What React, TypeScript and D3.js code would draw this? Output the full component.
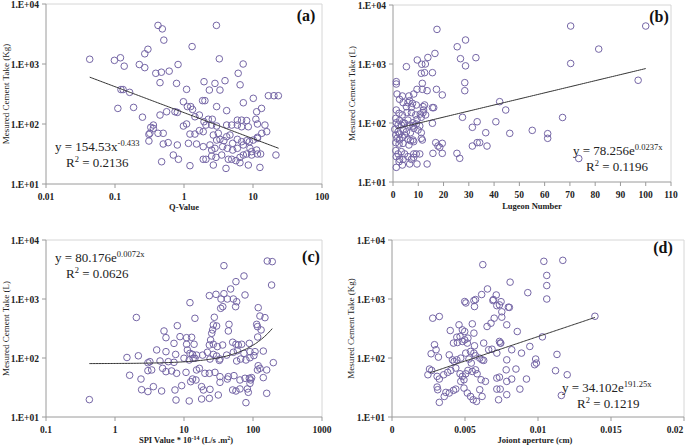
import React from 'react';
import * as d3 from 'd3';

// ---------- DATA ----------
// (a) Q-Value vs measured cement take (Kg)
const qValuePoints: [number, number][] = [
  [0.043,1200],[0.098,1150],[0.12,1270],[0.27,1480],[0.30,1760],[0.42,4400],[0.485,3850],[0.51,2500],[1.31,1950],[2.95,4400],[3.25,1220],
  [0.136,920],[0.225,980],[0.27,870],[0.39,700],[0.47,730],[0.61,760],[0.82,980],[7.2,1000],[6.1,700],[6.5,450],
  [0.122,375],[0.131,375],[0.163,337],[0.11,182],[0.186,189],[0.25,130],[0.31,67],[0.31,52],[0.33,88],
  [0.449,489],[0.78,475],[1.95,507],[2.81,475],[3.93,527],
  [1.09,378],[2.33,368],[3.32,368],
  [16.7,296],[20.1,296],[23.3,296],[10.1,268],[7.24,226],
  [0.98,235],[1.12,195],[1.25,195],[1.33,175],[1.86,245],[2.01,245],[2.97,195],[4.15,167],[11.3,160],[13.3,182],
  [0.449,141],[0.56,160],[0.74,160],[0.8,156],[1.44,132],[1.67,141],
  [1.95,109],[2.25,120],[2.57,120],[2.08,96],[2.52,96],[2.97,92.5],
  [4.15,96],[4.91,96],[5.93,116],[6.84,116],[8.09,114],[5.93,96],[6.84,90],[8.55,90],
  [11,120],[11.6,100],[14.9,96],[15.8,74.5],[13.4,70],[11.6,57.7],
  [0.98,92.5],[1.09,100],
  [0.36,96],[0.36,84.5],[0.32,70],[0.42,70],[0.5,70],
  [1.22,68],[1.44,68],[1.67,77.5],[1.9,74.5],
  [2.66,65.5],[3.14,70],[2.97,54],[3.32,55.5],[3.79,52.7],[4.15,61.4],[4.63,65.5],[5.07,47.6],
  [5.93,55.5],[6.84,50.7],[8.09,52.7],[8.85,50.7],[10.1,54],[11.6,60],
  [0.5,46.4],[0.59,48.9],[0.8,44.7],
  [1.16,47.6],[1.52,46.4],[1.9,41.9],[2.38,44.7],[2.52,36.8],[2.81,39.3],
  [3.63,41.9],[4.25,39.3],[5.07,36.8],[5.93,39.3],[7.24,44.7],[9.04,39.3],[9.55,34.6],[11.3,36.8],
  [0.7,30.4],[0.83,25.8],
  [1.9,25.8],[2.08,25.8],[2.52,29.3],[2.91,27.8],[3.52,30.4],
  [4.39,25.8],[4.91,25.8],[5.66,24.5],[6.47,27.8],[7.24,30.4],[8.09,31.6],[9.55,30.4],[11.6,31.6],[12.9,31.6],[21.5,30.4],
  [0.474,23.5],[1.22,20.2],[2.66,20.7],[4.06,18.2],[6.47,22.6],[8.55,20.7],[12.6,18.9],
];

// (b) Lugeon number vs measured cement take (L)
const lugeonPoints: [number, number][] = [
  [100,4400],[70.3,4400],[81.4,1790],[70.3,1020],[97,530],[73.5,25],[67.1,124],[55.1,75],[61.2,66],[61.2,55],[46.2,66.8],
  [28.7,930],[28.7,2550],[25.4,1960],[26.7,1230],[32.8,1280],[17.4,3860],[16.6,1510],[9.6,1170],[13.8,1290],[11.4,990],[12.8,1000],
  [5.3,901],[11.2,695],[12.5,713],[15.6,713],[28.4,483],[28.4,353],
  [1.3,502],[1.3,458],[11.6,470],
  [6.3,287],[3.7,287],[8.2,310],[9.5,372],[11.6,372],[13.5,353],[17.2,372],[19.5,299],
  [1.6,310],[2.6,252],[4.0,221],[5.9,221],[7.7,215],[6.6,239],[5.3,189],[7.3,185],[9.2,202],[11.9,189],[12.5,202],[15.6,182],[16.1,182],
  [1.3,166],[2.4,146],[3.7,137],[5.5,150],[7.3,150],[9.0,137],[10.8,142],[11.9,150],[12.1,166],
  [1.1,120],[2.6,110],[4.0,101],[5.9,112],[7.9,101],[9.5,115],[11.2,125],[12.9,137],
  [1.3,101],[2.0,92.5],[3.3,92.5],[4.6,99],[6.6,92.5],[7.9,89],[9.2,96],[10.6,89],[15.6,99],
  [0.7,78],[2.0,71],[2.6,65],[4.0,76],[5.3,71],[6.9,68.5],[8.2,81],[9.9,76],[11.2,68.5],
  [1.1,62.7],[1.6,55],[2.6,51.5],[3.7,57.1],[4.6,62.7],[5.9,52.8],[6.9,50.2],[7.9,51.5],[11.2,55],[11.6,51.5],
  [1.1,46.5],[2.4,44],[4.0,45.2],[6.3,42.4],[8.2,48.3],[16.9,46.5],[17.8,40.7],[19.5,45.2],[18.5,38.7],
  [1.1,34],[2.0,29.9],[3.3,32.7],[4.6,29.9],[5.9,26.9],[8.2,29.9],[9.2,29.9],[10.6,29.9],[15.8,30.6],[19.5,30.6],
  [1.3,26.9],[2.6,24.2],[4.0,24.2],[2.4,22.1],[7.3,24.2],[8.2,26.2],[6.6,20.2],[9.5,20.2],[13.5,20.2],
  [1.3,17.7],[3.7,19.4],[25.3,30.6],[26.4,25.2],
  [27.5,125],[31.4,84.5],[33.3,105],[40.7,105],[42.2,230],[44.6,166],[36.7,68.5],[33.3,46.5],[34.3,46.5],[37.2,40.7],[31.4,40.7],
];

// (c) SPI value vs measured cement take (L)
const spiPoints: [number, number][] = [
  [0.425,19.7],[2.04,486],[1.49,102],[2.18,109],[1.63,51],[2.38,44],[2.43,29],[3.0,83],[3.0,61],[3.0,27],
  [37.9,3670],[161,4400],[190,4300],[186,1725],[12.2,867],[74,2455],[56.6,1968],[47.4,1478],
  [29.1,1200],[37.9,1230],[23.3,1140],[34.4,1000],[42.5,1000],[51.9,1000],[58,900],[76.6,1170],
  [34,695],[36.5,741],[56,741],[14.4,471],[119,713],[126,515],[149,483],
  [27.5,490],[26.6,363],[26,299],[25.2,262],[29.7,349],[44.9,372],[43.9,287],[113,372],[116,340],[131,299],
  [8.0,353],[5.13,287],[5.48,221],
  [7.16,177],[8.75,230],[10.9,221],[12.9,224],[14,171],
  [4.02,137],[5.48,128],[7.57,115],[10.9,171],[11.2,137],
  [24.3,202],[23.3,166],[26.6,171],[30.4,156],[36.3,166],[50.7,185],[56.6,171],[61.2,166],[68.5,171],[88.5,177],
  [117,227],[141,131],
  [12.2,120],[13.3,115],[15.2,112],[14.4,99],[18.6,112],[21.8,125],[26.6,115],[29.7,108],[33.2,96],[41.5,112],[51.9,125],[59.3,133],[74,120],[90.4,128],[107,128],
  [3.2,86.7],[4.49,89],[5.93,86.7],[7.16,84.5],[10,99],[11.9,92.5],[13.6,99],[23.8,96],[32.5,91],[58,89],[66.2,96],[79,92.5],[90.4,101],[103,110],
  [3.4,62.7],[4.9,66.8],[5.48,58.7],[6.62,60.3],[7.82,55],[10.7,57.1],[15.2,62.7],[16.7,66.8],[20.1,55],[23.3,55],[28.1,57.1],[33.2,48.3],[43.9,48.3],[53,50.2],[64.7,42.4],[76.6,45.3],[88.5,45.3],[92.5,42.4],[95.5,46.5],[119,74],[116,62.7],[126,66.8],[158,62.7],[141,46.5],[197,83.4],
  [3.6,32.7],[4.74,27.6],[7.4,28.7],[9.25,34],[12.5,39.7],[13.3,44],[14.9,42.4],[18,32.7],[19.1,28.7],[23.8,29.4],[31.4,23.6],[23.3,20.7],[33.2,38.7],[42.5,44],[50.7,28.7],[56.6,27.6],[64.7,29.9],[82.8,29.9],[85.5,26.2],[90.4,37.2],[158,25.2],
  [7.66,19.4],[11.9,18.7],[18,20.2],[79,17.5],
];

// (d) Joint aperture (cm) vs measured cement take (Kg)
const aperturePoints: [number, number][] = [
  [0.00498,906],[0.00561,942],[0.00565,745],[0.00691,942],[0.00736,795],[0.00797,726],
  [0.00279,473],[0.00324,505],
  [0.00399,292],[0.00459,365],[0.00482,300],[0.00498,281],[0.0055,379],[0.00561,264],[0.0052,217],
  [0.00651,342],[0.00678,389],[0.007,473],[0.00752,492],[0.00786,365],[0.00858,281],
  [0.00444,225],[0.00466,232],[0.00498,203],[0.00448,183],[0.00421,179],[0.00482,191],[0.00516,179],[0.00565,161],[0.00628,179],[0.00685,141],[0.00736,191],[0.00745,179],
  [0.00291,168],[0.00302,138],[0.00268,118],[0.00318,103.5],[0.00257,65],[0.00272,61.5],
  [0.00392,113],[0.00414,93],[0.00426,87.5],[0.00444,93],[0.00471,99.5],[0.00505,121],[0.00538,129],[0.00561,121],[0.00572,109],[0.00527,96],[0.00543,82],[0.00601,99.5],[0.00617,93],[0.00628,91],
  [0.00662,138],[0.00718,121],[0.00741,179],[0.0082,138],[0.00887,121],[0.00944,157],[0.00984,96],[0.00989,82],[0.00977,77],
  [0.00786,93],[0.00782,63],[0.00849,65],[0.00736,47.4],[0.00718,45.7],[0.00786,40.1],[0.0082,44],[0.00921,44],[0.00876,29.7],[0.00741,29.7],[0.00718,29.7],[0.00786,23.9],[0.0073,19.6],
  [0.00309,48.8],[0.00324,44],[0.00354,52],[0.00381,57],[0.00403,61.5],[0.00437,67.5],[0.00466,54],[0.00482,48.8],[0.00493,42.8],[0.00505,54],[0.00471,40.1],[0.0052,61.5],[0.0055,59.2],[0.00572,63],[0.00583,54],[0.0061,42.8],[0.0064,40.1],
  [0.00309,32.2],[0.00313,29],[0.00369,26.1],[0.00358,22.3],[0.00392,25.5],[0.00421,28.3],[0.00437,29.7],[0.00493,30.9],[0.00516,25.5],[0.00538,22.3],[0.00556,19.6],[0.00579,18.4],[0.00601,29],[0.00617,22.3],
  [0.00324,17.7],[0.00246,52],
  [0.00622,3820],[0.0104,4350],[0.0117,4520],[0.0106,2510],[0.0106,1690],[0.0106,1000],[0.00809,1930],[0.0093,1280],
  [0.00654,1480],[0.00614,1190],[0.00572,977],[0.00506,857],
  [0.00714,1170],[0.00718,771],[0.00747,900],[0.00752,607],[0.00695,977],[0.00804,721],
  [0.0116,23.2],[0.0112,61],[0.012,52],[0.0113,115],[0.0103,228],[0.0139,510],
];

// Trend-line coefficients (from the chart's equations)
const fitA = { a: 154.53, b: -0.433, from: 0.043, to: 23.5 }; // power
const fitB = { a: 78.256, b: 0.0237, from: 1.3, to: 100 };   // exponential
const fitC = { a: 80.176, b: 0.0072, from: 0.425, to: 190 }; // exponential
const fitD = { a: 34.102, b: 191.25, from: 0.0026, to: 0.0139 }; // exponential

const yTickValues = [10, 100, 1000, 10000];
const yTickLabels = ['1.E+01', '1.E+02', '1.E+03', '1.E+04'];
const xTicksA = [0.01, 0.1, 1, 10, 100];
const xTickLabelsA = ['0.01', '0.1', '1', '10', '100'];
const xTicksB = [0, 10, 20, 30, 40, 50, 60, 70, 80, 90, 100, 110];
const xTickLabelsB = xTicksB.map(String);
const xTicksC = [0.1, 1, 10, 100, 1000];
const xTickLabelsC = ['0.1', '1', '10', '100', '1000'];
const xTicksD = [0, 0.005, 0.01, 0.015, 0.02];
const xTickLabelsD = ['0', '0.005', '0.01', '0.015', '0.02'];

// ---------- DRAWING ----------
const SERIF = '"Liberation Serif", "Times New Roman", serif';
const MARK = '#7566a6';
const EQ_SIZE = 13;

type PanelProps = {
  left: number; right: number; top: number; bottom: number;
  xType: 'log' | 'linear'; xDomain: [number, number];
  xTicks: number[]; xTickLabels: string[];
  points: [number, number][];
  fit: { a: number; b: number; from: number; to: number };
  fitKind: 'power' | 'exp';
  eqCoef: string; eqBase: string; eqExp: string; r2: string;
  eqX: number; eqY: number; r2X: number; r2Y: number;
  label: string; labelX: number; labelY: number;
  yTitle: string; yTitleX: number;
  xTitle: React.ReactNode; xTitleX: number; xTitleY: number;
};

function Panel(p: PanelProps) {
  const x = p.xType === 'log'
    ? d3.scaleLog().domain(p.xDomain).range([p.left, p.right])
    : d3.scaleLinear().domain(p.xDomain).range([p.left, p.right]);
  const y = d3.scaleLog().domain([10, 10000]).range([p.bottom, p.top]);

  const n = 120;
  const fitXs = p.xType === 'log'
    ? d3.range(n + 1).map(i => Math.exp(Math.log(p.fit.from) + (Math.log(p.fit.to) - Math.log(p.fit.from)) * i / n))
    : d3.range(n + 1).map(i => p.fit.from + (p.fit.to - p.fit.from) * i / n);
  const fitFn = (v: number) => p.fitKind === 'power' ? p.fit.a * Math.pow(v, p.fit.b) : p.fit.a * Math.exp(p.fit.b * v);
  const line = d3.line<number>().x(v => x(v)).y(v => y(fitFn(v)));

  const midY = (p.top + p.bottom) / 2;

  return (
    <g>
      {/* frame */}
      <line x1={p.left} x2={p.right} y1={p.top} y2={p.top} stroke="#d6d6d6" strokeWidth={1} />
      <line x1={p.right} x2={p.right} y1={p.top} y2={p.bottom} stroke="#d6d6d6" strokeWidth={1} />
      {/* axes */}
      <line x1={p.left} x2={p.right} y1={p.bottom} y2={p.bottom} stroke="#9a9a9a" strokeWidth={1} />
      <line x1={p.left} x2={p.left} y1={p.top} y2={p.bottom} stroke="#9a9a9a" strokeWidth={1} />
      {yTickValues.map((v, i) => (
        <g key={'y' + i}>
          <line x1={p.left - 4} x2={p.left} y1={y(v)} y2={y(v)} stroke="#9a9a9a" />
          <text x={p.left - 7} y={y(v) + 3.5} textAnchor="end" fontFamily={SERIF} fontWeight="bold" fontSize={9.5} fill="#222">{yTickLabels[i]}</text>
        </g>
      ))}
      {p.xTicks.map((v, i) => {
        const tx = x(v);
        const lx = Math.min(tx, 675);
        return (
          <g key={'x' + i}>
            <line x1={tx} x2={tx} y1={p.bottom} y2={p.bottom + 4} stroke="#9a9a9a" />
            <text x={lx} y={p.bottom + 16} textAnchor="middle" fontFamily={SERIF} fontWeight="bold" fontSize={9.5} fill="#222">{p.xTickLabels[i]}</text>
          </g>
        );
      })}
      {/* points */}
      {p.points.map((d, i) => (
        <circle key={i} cx={x(d[0])} cy={y(d[1])} r={3.3} fill="none" stroke={MARK} strokeWidth={1} />
      ))}
      {/* trend */}
      <path d={line(fitXs) || ''} fill="none" stroke="#333" strokeWidth={1} />
      {/* equation */}
      <text x={p.eqX} y={p.eqY} fontFamily={SERIF} fontSize={EQ_SIZE} fill="#222">
        {'y = ' + p.eqCoef + p.eqBase}
        <tspan dy={-5} fontSize={8.5}>{p.eqExp}</tspan>
      </text>
      <text x={p.r2X} y={p.r2Y} fontFamily={SERIF} fontSize={EQ_SIZE} fill="#222">
        R<tspan dy={-5} fontSize={8.5}>2</tspan><tspan dy={5}>{' = ' + p.r2}</tspan>
      </text>
      <text x={p.labelX} y={p.labelY} textAnchor="middle" fontFamily={SERIF} fontWeight="bold" fontSize={16} fill="#111">{p.label}</text>
      {/* titles */}
      <text transform={`translate(${p.yTitleX},${midY}) rotate(-90)`} textAnchor="middle" fontFamily={SERIF} fontSize={9} fill="#222">{p.yTitle}</text>
      <text x={p.xTitleX} y={p.xTitleY} textAnchor="middle" fontFamily={SERIF} fontWeight="bold" fontSize={8.5} fill="#222">{p.xTitle}</text>
    </g>
  );
}

export default function App() {
  return (
    <svg width={685} height={445} viewBox="0 0 685 445" style={{ position: 'absolute', left: 0, top: 0, background: '#fff' }}>
      <rect x={0} y={0} width={685} height={445} fill="#fff" />
      <Panel left={46} right={322} top={4} bottom={184} xType="log" xDomain={[0.01, 100]}
        xTicks={xTicksA} xTickLabels={xTickLabelsA} points={qValuePoints} fit={fitA} fitKind="power"
        eqCoef="154.53" eqBase="x" eqExp="-0.433" r2="0.2136" eqX={55} eqY={151} r2X={66} r2Y={167}
        label="(a)" labelX={306} labelY={21} yTitle="Mesured Cement Take (Kg)" yTitleX={9}
        xTitle="Q-Value" xTitleX={184} xTitleY={210} />
      <Panel left={393} right={671} top={5} bottom={182} xType="linear" xDomain={[0, 110]}
        xTicks={xTicksB} xTickLabels={xTickLabelsB} points={lugeonPoints} fit={fitB} fitKind="exp"
        eqCoef="78.256" eqBase="e" eqExp="0.0237x" r2="0.1196" eqX={573} eqY={155} r2X={586} r2Y={171}
        label="(b)" labelX={659} labelY={22} yTitle="Mesured Cement Take (L)" yTitleX={355}
        xTitle="Lugeon Number" xTitleX={532} xTitleY={209} />
      <Panel left={46} right={322} top={240} bottom={417} xType="log" xDomain={[0.1, 1000]}
        xTicks={xTicksC} xTickLabels={xTickLabelsC} points={spiPoints} fit={fitC} fitKind="exp"
        eqCoef="80.176" eqBase="e" eqExp="0.0072x" r2="0.0626" eqX={55} eqY={262} r2X={66} r2Y={278}
        label="(c)" labelX={311} labelY={262} yTitle="Mesured Cement Take (L)" yTitleX={9}
        xTitle={<>{'SPI Value * 10'}<tspan dy={-3} fontSize={6}>-14</tspan><tspan dy={3}>{' (L/s .m'}</tspan><tspan dy={-3} fontSize={6}>2</tspan><tspan dy={3}>)</tspan></>}
        xTitleX={186} xTitleY={443} />
      <Panel left={392} right={684} top={240} bottom={417} xType="linear" xDomain={[0, 0.02]}
        xTicks={xTicksD} xTickLabels={xTickLabelsD} points={aperturePoints} fit={fitD} fitKind="exp"
        eqCoef="34.102" eqBase="e" eqExp="191.25x" r2="0.1219" eqX={562} eqY={392} r2X={577} r2Y={408}
        label="(d)" labelX={663} labelY={253} yTitle="Mesured Cement Take (Kg)" yTitleX={354}
        xTitle="Joiont aperture (cm)" xTitleX={535} xTitleY={443} />
    </svg>
  );
}
